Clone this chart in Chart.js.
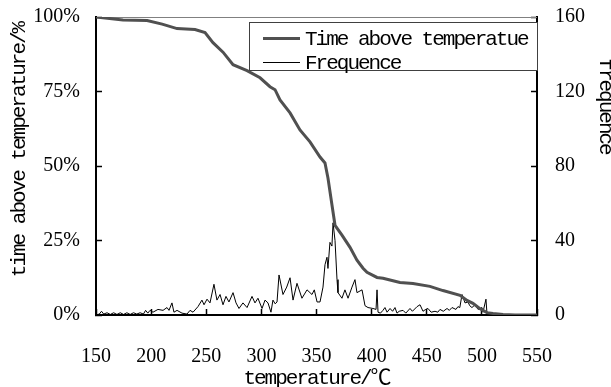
<!DOCTYPE html>
<html>
<head>
<meta charset="utf-8">
<script src="https://cdn.jsdelivr.net/npm/chart.js@4/dist/chart.umd.min.js"></script>
<style>
  html, body { margin: 0; padding: 0; background: #fff; }
  canvas { display: block; }
</style>
</head>
<body>
<canvas id="chart" width="611" height="387"></canvas>
<script>
// time above temperature (%)
const cumTemps = [150, 174.5, 196.3, 210, 223.5, 239.8, 248.9, 256.1, 265.2, 274.3, 287, 298.8, 307.8, 312.4, 316.9, 326, 335, 344.1, 353.2, 357.7, 360.4, 364, 366.8, 373.1, 380.4, 386.7, 392.2, 395.8, 404.9, 410.3, 425.7, 437.5, 452.9, 464.7, 480.2, 486.5, 491.9, 498, 504.6, 510.1, 519.2, 530, 550];
const cumPct = [100, 99, 98.8, 97.6, 96.1, 95.8, 94.8, 91.4, 88.2, 84, 82, 79.6, 76.6, 75.6, 72.2, 67.8, 62.1, 58.1, 53, 51, 46, 37, 30.1, 26.8, 22.7, 18.4, 15.7, 14.3, 12.6, 12.3, 10.9, 10.6, 9.6, 8.2, 6.6, 4.9, 3.9, 2.2, 0.8, 0.5, 0.2, 0, 0];

// frequence (count)
const freqTemps = [150, 153, 155, 157, 160, 163, 166, 169, 172, 175, 178, 181, 184, 187, 190, 193, 195, 197, 199, 201.7, 206.2, 210.8, 214.4, 216.2, 218.9, 220.7, 223.5, 228, 232.5, 235.3, 238, 242.5, 246.1, 248, 250.7, 253.4, 257, 259.7, 262.5, 265.2, 267.9, 270.6, 274.3, 277, 279.7, 283.3, 287, 291.5, 294.2, 296.9, 300.6, 303.3, 306, 308.7, 310.5, 312.5, 314.2, 316, 319.6, 323, 326, 328.7, 332.3, 336.8, 341.4, 345.9, 348, 350.5, 353.2, 355.9, 357.7, 359.5, 360.4, 362.2, 364, 365, 366.8, 368.6, 369.5, 373.1, 375.8, 378.6, 382.2, 384.9, 386.7, 391.3, 394, 396.7, 401.2, 404, 404.9, 405.8, 408, 410.3, 412.1, 414, 416.7, 419, 421.2, 423, 425, 428.5, 431, 434.8, 437, 441.2, 443.9, 446.6, 449, 451.1, 454, 457.5, 460, 462, 465, 468.4, 470.5, 472.9, 476.5, 478.3, 480, 482, 484.7, 487.4, 489, 491, 493.8, 496.5, 500.1, 501, 503.7, 504.6, 507.4];
const freqCounts = [0, 0.5, 2, 0.5, 1.2, 0.3, 1.2, 0.3, 1.2, 0.3, 1.2, 0.3, 1.2, 0.5, 1.2, 0.5, 2.5, 1, 2.5, 1.5, 3, 2.5, 4, 2.5, 6.5, 1.5, 2.5, 1, 0.5, 2.5, 1.5, 4.5, 8, 5.5, 8.5, 6.5, 16.5, 8, 11, 5.5, 10, 7, 12, 6.5, 3.5, 6.5, 4, 10, 6.5, 9, 3.5, 8, 6.5, 1.5, 8, 6, 7, 21.5, 11, 15, 20, 8, 17, 9, 13.5, 11, 13.5, 7, 7, 15, 27, 31, 25, 39, 37, 49.5, 40, 19, 12, 9, 13.5, 9, 15, 19, 12, 13.5, 5, 4, 3.5, 3, 13.5, 1.5, 1, 2.5, 4, 1.5, 3.5, 2, 4, 1, 2, 2.5, 1, 3.5, 2, 4.5, 5.5, 2, 3, 3.5, 1.5, 2, 1.5, 3, 2, 3.5, 2.5, 4, 3, 4.5, 4, 11, 6.5, 7, 5, 4, 5.5, 3, 4, 1.5, 8.5, 1, 0];

const xTicks = [150, 200, 250, 300, 350, 400, 450, 500, 550];
const seriesNames = ["Time above temperatue", "Frequence"];
const xTitle = "temperature/℃";
const yTitle = "time above temperature/%";
const y1Title = "frequence";

const monoFont = '21px "Liberation Mono", "Noto Sans CJK SC", monospace';

// titles, top frame line and the boxed legend
const decorations = {
  id: "decorations",
  beforeDatasetsDraw(chart) {
    const { ctx, chartArea: a } = chart;
    ctx.save();
    ctx.strokeStyle = "#808080";
    ctx.lineWidth = 1;
    ctx.beginPath();
    ctx.moveTo(a.left, a.top + 0.5);
    ctx.lineTo(a.right, a.top + 0.5);
    ctx.stroke();
    ctx.restore();
  },
  afterDraw(chart) {
    const { ctx, chartArea: a } = chart;
    ctx.save();
    ctx.font = monoFont;
    ctx.letterSpacing = "-2px";
    ctx.fillStyle = "#000";
    ctx.textBaseline = "alphabetic";

    // x title
    ctx.textAlign = "center";
    ctx.fillText(xTitle, (a.left + a.right) / 2, 384);

    // left title, reads upwards
    ctx.save();
    ctx.translate(24.5, 150);
    ctx.rotate(-Math.PI / 2);
    ctx.fillText(yTitle, 0, 0);
    ctx.restore();

    // right title, reads downwards, partly off the edge
    ctx.save();
    ctx.translate(600, 106);
    ctx.rotate(Math.PI / 2);
    ctx.fillText(y1Title, 0, 0);
    ctx.restore();

    // legend
    const bx = 249.5, by = 22.5, bw = 288, bh = 48;
    ctx.fillStyle = "#fff";
    ctx.fillRect(bx, by, bw, bh);
    ctx.strokeStyle = "#404040";
    ctx.lineWidth = 1;
    ctx.strokeRect(bx, by, bw, bh);
    ctx.textAlign = "left";
    chart.data.datasets.forEach((ds, i) => {
      const ly = 38.5 + i * 24;
      ctx.strokeStyle = ds.borderColor;
      ctx.lineWidth = ds.borderWidth;
      ctx.beginPath();
      ctx.moveTo(263, ly);
      ctx.lineTo(300, ly);
      ctx.stroke();
      ctx.fillStyle = "#000";
      ctx.fillText(ds.label, 305, ly + 6.5);
    });
    ctx.restore();
  }
};

const ctx = document.getElementById("chart").getContext("2d");

const tickFont = { family: "Liberation Serif", size: 20 };
const gridOpts = { drawOnChartArea: false, tickLength: -6, tickWidth: 1.5, tickColor: "#000" };
const borderOpts = { color: "#000", width: 2 };

new Chart(ctx, {
  type: "line",
  data: {
    datasets: [
      {
        label: seriesNames[0],
        data: cumTemps.map((t, i) => ({ x: t, y: cumPct[i] })),
        yAxisID: "y",
        borderColor: "#505050",
        borderWidth: 3,
        pointRadius: 0,
        tension: 0
      },
      {
        label: seriesNames[1],
        data: freqTemps.map((t, i) => ({ x: t, y: freqCounts[i] })),
        yAxisID: "y1",
        borderColor: "#000",
        borderWidth: 1,
        pointRadius: 0,
        tension: 0
      }
    ]
  },
  options: {
    responsive: false,
    animation: false,
    devicePixelRatio: 1,
    layout: { padding: { left: 0, right: 0, top: 17, bottom: 0 } },
    plugins: {
      legend: { display: false },
      tooltip: { enabled: false }
    },
    scales: {
      x: {
        type: "linear",
        min: 150,
        max: 550,
        afterBuildTicks: (s) => { s.ticks = xTicks.map((v) => ({ value: v })); },
        afterFit: (s) => { s.height = 72; },
        ticks: { font: tickFont, color: "#000", padding: 36, maxRotation: 0 },
        grid: gridOpts,
        border: borderOpts
      },
      y: {
        position: "left",
        min: 0,
        max: 100,
        afterFit: (s) => { s.width = 96; s.paddingTop = 0; s.paddingBottom = 0; },
        ticks: { stepSize: 25, font: tickFont, color: "#000", padding: 22, callback: (v) => v + "%" },
        grid: gridOpts,
        border: borderOpts
      },
      y1: {
        position: "right",
        min: 0,
        max: 160,
        afterFit: (s) => { s.width = 74; s.paddingTop = 0; s.paddingBottom = 0; },
        ticks: { stepSize: 40, font: tickFont, color: "#000", padding: 24 },
        grid: gridOpts,
        border: borderOpts
      }
    }
  },
  plugins: [decorations]
});
</script>
</body>
</html>
